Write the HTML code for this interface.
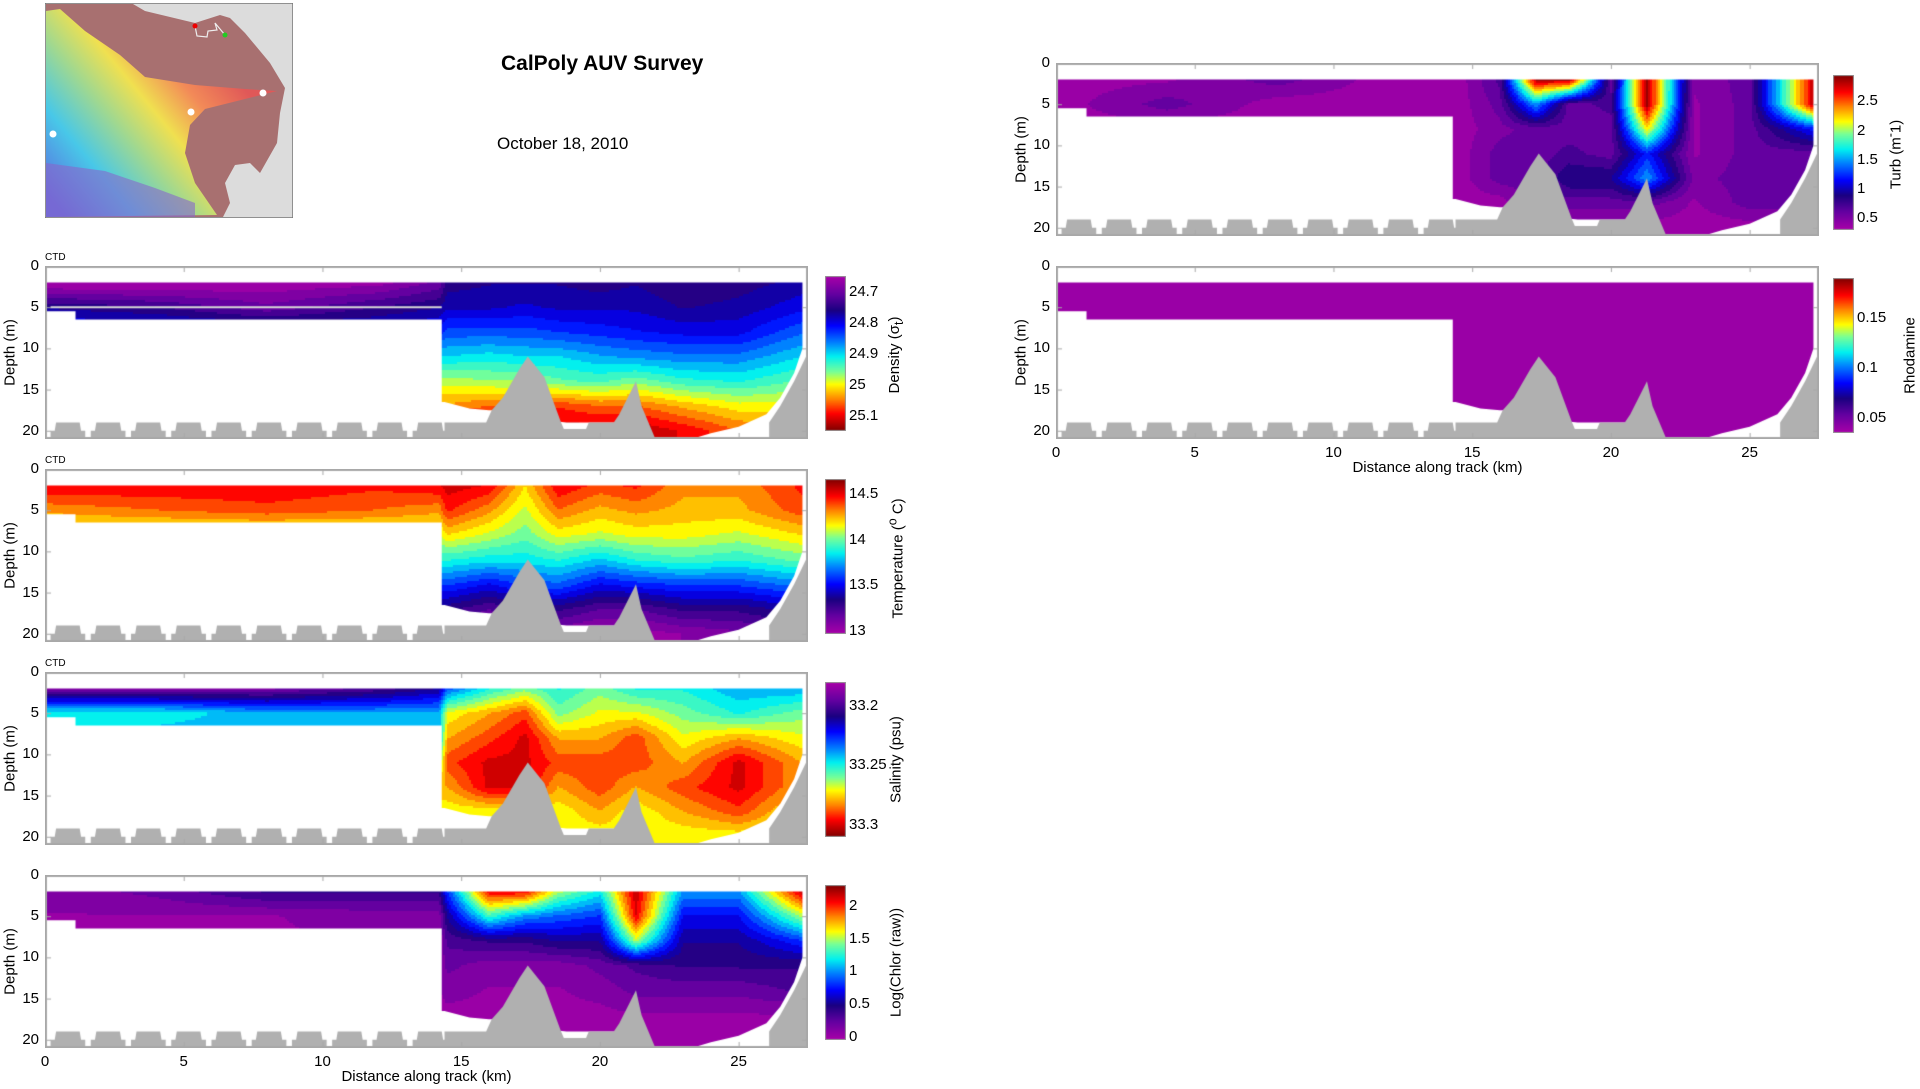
<!DOCTYPE html>
<html><head><meta charset="utf-8">
<style>
html,body{margin:0;padding:0;background:#fff;}
body{width:1920px;height:1089px;position:relative;overflow:hidden;font-family:"Liberation Sans",Arial,sans-serif;}
.t{position:absolute;white-space:nowrap;color:#000;}
</style></head>
<body>
<svg id="map" style="position:absolute;left:45px;top:3px" width="248" height="215" viewBox="0 0 248 215">
<defs><linearGradient id="tg" x1="0" y1="190" x2="170" y2="50" gradientUnits="userSpaceOnUse">
<stop offset="0" stop-color="#5a6ee0"/><stop offset="0.25" stop-color="#48c8e8"/><stop offset="0.45" stop-color="#a0d890"/><stop offset="0.62" stop-color="#f0e050"/><stop offset="0.8" stop-color="#f28a58"/><stop offset="1" stop-color="#e05858"/></linearGradient></defs>
<rect x="0" y="0" width="248" height="215" fill="#dcdcdc" stroke="#777" stroke-width="1.5"/>
<polygon fill="#a87070" points="1,1 88,1 100,8 150,20 175,12 185,15 200,30 225,60 240,85 235,110 232,140 215,170 205,160 190,162 180,180 185,200 178,214 1,214"/>
<polygon fill="url(#tg)" points="1,8 15,6 40,28 75,52 100,74 150,82 200,86 232,88 200,96 160,106 145,122 140,150 150,180 172,212 1,214"/>
<polygon fill="#8866cc" opacity="0.6" points="1,160 60,168 110,185 150,200 150,214 1,214"/>
<polyline points="150,23 152,33 162,34 163,28 172,27 170,20 180,32" fill="none" stroke="#eee" stroke-width="1.2"/>
<circle cx="150" cy="23" r="2.5" fill="#e00"/><circle cx="180" cy="32" r="2.5" fill="#2c2"/>
<circle cx="8" cy="131" r="3.5" fill="#fff"/><circle cx="146" cy="109" r="3.5" fill="#fff"/><circle cx="218" cy="90" r="3.5" fill="#fff"/>
</svg>
<div class="t" style="left:501px;top:52px;font-size:21px;font-weight:bold">CalPoly AUV Survey</div>
<div class="t" style="left:497px;top:134px;font-size:17px">October 18, 2010</div>
<div id="root"></div>
<script>
const gridX = [0, 4, 8, 12, 14.2, 14.5, 16, 17.3, 18.5, 20, 21.3, 23, 25, 27.3];
const gridD = [2, 5, 8, 11, 14, 17, 20];
const maskX = [0, 27.3, 27.3, 27.0, 26.5, 26, 25, 24, 23.3, 22.0, 21.5, 20.5, 19.5, 18.8, 18.3, 17, 16, 15.3, 14.4, 14.3, 14.3, 1.1, 1.1, 0];
const maskD = [2, 2, 10, 13, 16, 18, 19.5, 20.3, 21, 21, 19.5, 19, 19, 19, 18.8, 17.5, 17.5, 17.3, 16.5, 16.5, 6.5, 6.5, 5.5, 5.5];
const bumpStarts = [0.2, 1.65, 3.1, 4.55, 6.0, 7.45, 8.9, 10.35, 11.8, 13.25];
const ridgeX = [14.4, 14.4, 15.9, 16.1, 16.5, 17.1, 17.4, 18.0, 18.6, 18.7, 19.5, 19.6, 20.5, 20.7, 21.3, 21.5, 22.0, 22.0];
const ridgeD = [21, 19, 19, 17.5, 16, 12.5, 11, 13.5, 19, 19.8, 19.8, 19, 19, 18, 14, 17, 21, 21];
const slopeX = [26.1, 26.1, 26.5, 27, 27.5, 27.5];
const slopeD = [21, 19, 17, 14, 10.5, 21];
const xTicks = [0, 5, 10, 15, 20, 25];
const dTicks = [0, 5, 10, 15, 20];

const densityVals = [
 [24.64,24.64,24.65,24.66,24.70,24.75,24.76,24.76,24.76,24.75,24.76,24.74,24.75,24.77],
 [24.76,24.74,24.70,24.74,24.76,24.78,24.78,24.79,24.78,24.78,24.78,24.76,24.77,24.80],
 [24.82,24.82,24.80,24.80,24.82,24.84,24.84,24.84,24.83,24.82,24.81,24.80,24.80,24.85],
 [24.90,24.90,24.90,24.90,24.90,24.90,24.91,24.90,24.90,24.88,24.87,24.86,24.86,24.90],
 [24.98,24.98,24.98,24.98,24.98,24.98,24.97,24.97,24.95,24.94,24.96,24.93,24.92,24.95],
 [25.04,25.04,25.04,25.04,25.04,25.04,25.06,25.05,25.08,25.06,25.06,25.03,25.00,25.00],
 [25.12,25.12,25.12,25.12,25.12,25.12,25.12,25.13,25.12,25.12,25.13,25.10,25.06,25.05]];
const tempVals = [
 [14.50,14.50,14.50,14.45,14.50,14.55,14.50,14.20,14.50,14.40,14.45,14.30,14.30,14.45],
 [14.30,14.35,14.40,14.35,14.30,14.45,14.30,14.10,14.35,14.25,14.30,14.25,14.25,14.40],
 [14.10,14.10,14.10,14.10,14.10,14.20,14.10,14.00,14.15,14.10,14.15,14.15,14.10,14.20],
 [13.90,13.90,13.90,13.90,13.90,13.90,13.85,13.85,13.90,13.80,13.90,13.95,13.90,14.00],
 [13.60,13.60,13.60,13.60,13.60,13.60,13.50,13.60,13.65,13.50,13.55,13.60,13.60,13.70],
 [13.30,13.30,13.30,13.30,13.30,13.30,13.20,13.30,13.30,13.20,13.20,13.30,13.30,13.40],
 [13.10,13.10,13.10,13.10,13.10,13.10,13.05,13.10,13.05,13.00,13.00,13.05,13.10,13.20]];
const salVals = [
 [33.19,33.19,33.19,33.20,33.21,33.23,33.25,33.26,33.25,33.26,33.25,33.25,33.24,33.24],
 [33.25,33.25,33.24,33.24,33.24,33.27,33.28,33.29,33.26,33.27,33.27,33.26,33.25,33.26],
 [33.24,33.24,33.24,33.24,33.24,33.28,33.29,33.30,33.28,33.28,33.29,33.27,33.28,33.27],
 [33.26,33.26,33.26,33.26,33.26,33.29,33.30,33.30,33.29,33.29,33.29,33.28,33.30,33.28],
 [33.28,33.28,33.28,33.28,33.28,33.28,33.30,33.30,33.28,33.29,33.28,33.29,33.30,33.28],
 [33.27,33.27,33.27,33.27,33.27,33.27,33.27,33.27,33.27,33.28,33.27,33.28,33.29,33.27],
 [33.27,33.27,33.27,33.27,33.27,33.27,33.27,33.27,33.27,33.27,33.27,33.27,33.27,33.27]];
const chlVals = [
 [0.10,0.20,0.40,0.40,0.40,0.80,2.10,2.10,1.50,1.20,2.20,1.00,1.00,2.20],
 [0.05,0.05,0.05,0.10,0.10,0.50,1.30,1.00,0.90,0.80,2.10,0.70,0.70,1.50],
 [0.05,0.05,0.05,0.05,0.05,0.30,0.40,0.40,0.50,0.50,1.50,0.50,0.50,0.80],
 [0.05,0.05,0.05,0.05,0.05,0.20,0.10,0.10,0.10,0.20,0.30,0.40,0.40,0.40],
 [0.05,0.05,0.05,0.05,0.05,0.10,0.05,0.05,0.05,0.10,0.20,0.20,0.20,0.30],
 [0.02,0.02,0.02,0.02,0.02,0.02,0.02,0.02,0.02,0.02,0.05,0.05,0.05,0.05],
 [0.00,0.00,0.00,0.00,0.00,0.00,0.00,0.00,0.00,0.00,0.00,0.00,0.00,0.00]];
const turbVals = [
 [0.35,0.40,0.60,0.35,0.35,0.35,0.70,2.90,2.90,0.60,2.90,0.45,0.60,2.80],
 [0.35,0.60,0.35,0.35,0.35,0.35,0.60,1.50,0.60,0.70,2.90,0.40,0.60,2.80],
 [0.35,0.35,0.35,0.35,0.35,0.35,0.50,0.60,0.60,0.60,2.20,0.40,0.60,1.20],
 [0.35,0.35,0.35,0.35,0.35,0.35,0.60,0.60,0.70,0.60,1.20,0.40,0.60,0.60],
 [0.35,0.35,0.35,0.35,0.35,0.35,0.60,0.60,0.90,0.90,1.50,0.50,0.60,0.60],
 [0.35,0.35,0.35,0.35,0.35,0.35,0.35,0.60,0.60,0.60,0.60,0.40,0.60,0.60],
 [0.35,0.35,0.35,0.35,0.35,0.35,0.35,0.35,0.35,0.35,0.35,0.35,0.35,0.35]];
const rhodVals = [
 [0.04,0.04,0.04,0.04,0.04,0.04,0.04,0.04,0.04,0.04,0.04,0.04,0.04,0.04],
 [0.04,0.04,0.04,0.04,0.04,0.04,0.04,0.04,0.04,0.04,0.04,0.04,0.04,0.04],
 [0.04,0.04,0.04,0.04,0.04,0.04,0.04,0.04,0.04,0.04,0.04,0.04,0.04,0.04],
 [0.04,0.04,0.04,0.04,0.04,0.04,0.04,0.04,0.04,0.04,0.04,0.04,0.04,0.04],
 [0.04,0.04,0.04,0.04,0.04,0.04,0.04,0.04,0.04,0.04,0.04,0.04,0.04,0.04],
 [0.04,0.04,0.04,0.04,0.04,0.04,0.04,0.04,0.04,0.04,0.04,0.04,0.04,0.04],
 [0.04,0.04,0.04,0.04,0.04,0.04,0.04,0.04,0.04,0.04,0.04,0.04,0.04,0.04]];

const densityTicks = [24.7, 24.8, 24.9, 25, 25.1];
const tempTicks = [13, 13.5, 14, 14.5];
const salTicks = [33.2, 33.25, 33.3];
const chlTicks = [0, 0.5, 1, 1.5, 2];
const turbTicks = [0.5, 1, 1.5, 2, 2.5];
const rhodTicks = [0.05, 0.1, 0.15];

const cmapStops = [[0,[168,0,168]],[0.12,[96,0,160]],[0.22,[26,0,128]],[0.32,[0,0,255]],[0.43,[0,128,255]],[0.52,[0,240,240]],[0.62,[120,255,150]],[0.7,[255,255,0]],[0.8,[255,128,0]],[0.89,[255,0,0]],[1,[128,0,0]]];
function cmap(t){t=Math.max(0,Math.min(1,t));for(let i=1;i<cmapStops.length;i++){if(t<=cmapStops[i][0]){const a=cmapStops[i-1],b=cmapStops[i];const f=(t-a[0])/(b[0]-a[0]);return a[1].map((v,k)=>Math.round(v+(b[1][k]-v)*f));}}return cmapStops[cmapStops.length-1][1];}

const panels = [
 {name:'density', vals:densityVals, vmin:24.648, vmax:25.15, reverse:true, ticks:densityTicks, label:'Density (σ<sub>t</sub>)', ax:45, ay:266, ctd:true, track:true, toff:50},
 {name:'temperature', vals:tempVals, vmin:12.97, vmax:14.66, reverse:false, ticks:tempTicks, label:'Temperature (<sup>o</sup> C)', ax:45, ay:469, ctd:true, toff:50},
 {name:'salinity', vals:salVals, vmin:33.18, vmax:33.31, reverse:true, ticks:salTicks, label:'Salinity (psu)', ax:45, ay:672, ctd:true, toff:50},
 {name:'chlorophyll', vals:chlVals, vmin:-0.05, vmax:2.32, reverse:false, ticks:chlTicks, label:'Log(Chlor (raw))', ax:45, ay:875, xlabels:true, toff:50},
 {name:'turbidity', vals:turbVals, vmin:0.3, vmax:2.95, reverse:false, ticks:turbTicks, label:'Turb (m<sup>-</sup>1)', ax:1056, ay:63, toff:40},
 {name:'rhodamine', vals:rhodVals, vmin:0.035, vmax:0.19, reverse:false, ticks:rhodTicks, label:'Rhodamine', ax:1056, ay:266, xlabels:true, toff:56}
];
const AW=763, AH=173, XMAX=27.5, DMAX=21;
const root=document.getElementById('root');
function interp(vals,x,d){
 let i=0;while(i<gridX.length-2&&x>gridX[i+1])i++;
 let j=0;while(j<gridD.length-2&&d>gridD[j+1])j++;
 let fx=(x-gridX[i])/(gridX[i+1]-gridX[i]);fx=Math.max(0,Math.min(1,fx));
 let fy=(d-gridD[j])/(gridD[j+1]-gridD[j]);fy=Math.max(0,Math.min(1,fy));
 const a=vals[j][i],b=vals[j][i+1],c=vals[j+1][i],e=vals[j+1][i+1];
 return (a*(1-fx)+b*fx)*(1-fy)+(c*(1-fx)+e*fx)*fy;
}
function addText(txt,l,t,size,extra){const d=document.createElement('div');d.className='t';d.innerHTML=txt;d.style.left=l+'px';d.style.top=t+'px';d.style.fontSize=size+'px';if(extra)Object.assign(d.style,extra);root.appendChild(d);return d;}

panels.forEach(p=>{
 const sx=x=>x/XMAX*AW, sy=d=>d/DMAX*AH;
 const cv=document.createElement('canvas');
 
 
 cv.width=AW;cv.height=AH;cv.style.position='absolute';cv.style.left=p.ax+'px';cv.style.top=p.ay+'px';
 root.appendChild(cv);
 const g=cv.getContext('2d');
 g.fillStyle='#fff';g.fillRect(0,0,AW,AH);
 g.save();g.beginPath();maskX.forEach((x,k)=>{k?g.lineTo(sx(x),sy(maskD[k])):g.moveTo(sx(x),sy(maskD[k]));});g.closePath();g.clip();
 const LV=22, step=2;
 for(let py=Math.floor(sy(2));py<AH;py+=step){for(let px=0;px<AW;px+=step){
   const x=(px+1)/AW*XMAX, d=(py+1)/AH*DMAX;
   let t=(interp(p.vals,x,d)-p.vmin)/(p.vmax-p.vmin);
   t=Math.floor(Math.max(0,Math.min(0.999,t))*LV)/LV+0.5/LV;
   const c=cmap(t);g.fillStyle='rgb('+c.join(',')+')';g.fillRect(px,py,step,step);}}
 g.restore();
 if(p.track){g.strokeStyle='#d8d8d8';g.lineWidth=2;g.beginPath();g.moveTo(sx(0.2),sy(5));g.lineTo(sx(14.3),sy(5));g.stroke();}
 g.fillStyle='#b0b0b0';
 bumpStarts.forEach(s=>{g.beginPath();g.moveTo(sx(s),sy(21));g.lineTo(sx(s),sy(20));g.lineTo(sx(s+0.15),sy(20));g.lineTo(sx(s+0.2),sy(19));g.lineTo(sx(s+1.05),sy(19));g.lineTo(sx(s+1.1),sy(20));g.lineTo(sx(s+1.25),sy(20));g.lineTo(sx(s+1.25),sy(21));g.closePath();g.fill();});
 [[ridgeX,ridgeD],[slopeX,slopeD]].forEach(([xs,ds])=>{g.beginPath();xs.forEach((x,k)=>{k?g.lineTo(sx(x),sy(ds[k])):g.moveTo(sx(x),sy(ds[k]));});g.closePath();g.fill();});
 g.strokeStyle='#a8a8a8';g.lineWidth=2;g.strokeRect(1,1,AW-2,AH-2);
 g.lineWidth=1;
 xTicks.forEach(x=>{g.beginPath();g.moveTo(sx(x)+0.5,0);g.lineTo(sx(x)+0.5,6);g.moveTo(sx(x)+0.5,AH);g.lineTo(sx(x)+0.5,AH-6);g.stroke();});
 dTicks.forEach(d=>{g.beginPath();g.moveTo(0,sy(d)+0.5);g.lineTo(6,sy(d)+0.5);g.moveTo(AW,sy(d)+0.5);g.lineTo(AW-6,sy(d)+0.5);g.stroke();});
 dTicks.forEach(d=>{const el=addText(String(d),p.ax-30,p.ay+sy(d)-9,15,{width:'24px',textAlign:'right'});
  
  });
 const yl=addText('Depth (m)',p.ax-35-50,p.ay+AH/2-9,15,{transform:'rotate(-90deg)',transformOrigin:'center',width:'100px',textAlign:'center'});
 
 
 if(p.ctd){const c=addText('CTD',p.ax,p.ay-14,10);
  
  }
 if(p.xlabels){
  xTicks.forEach(x=>{const el=addText(String(x),p.ax+sx(x)-15,p.ay+AH+5,15,{width:'30px',textAlign:'center'});
   
   });
  const xl=addText('Distance along track (km)',p.ax+AW/2-130,p.ay+AH+20,15,{width:'260px',textAlign:'center'});
  
  
 }
 const cbx=p.ax+AW+(p.ax>500?14:17), cby=p.ay+(p.ax>500?12:10), cbh=155, cbw=21;
 const cb=document.createElement('canvas');
 
 
 cb.width=cbw;cb.height=cbh;cb.style.position='absolute';cb.style.left=cbx+'px';cb.style.top=cby+'px';
 root.appendChild(cb);
 const h=cb.getContext('2d');
 for(let y=0;y<cbh;y++){let f=y/(cbh-1);let t=p.reverse?f:1-f;const c=cmap(t);h.fillStyle='rgb('+c.join(',')+')';h.fillRect(0,y,cbw,1);}
 h.strokeStyle='#999';h.lineWidth=1;h.strokeRect(0.5,0.5,cbw-1,cbh-1);
 p.ticks.forEach(v=>{let f=(v-p.vmin)/(p.vmax-p.vmin);let y=p.reverse?f*cbh:(1-f)*cbh;
  const el=addText(String(v),cbx+cbw+3,cby+y-9,15);
  
  });
 const ct=addText(p.label,cbx+cbw+p.toff-80,cby+cbh/2-9,15,{transform:'rotate(-90deg)',transformOrigin:'center',width:'160px',textAlign:'center'});
 
 
});
</script>
</body></html>
